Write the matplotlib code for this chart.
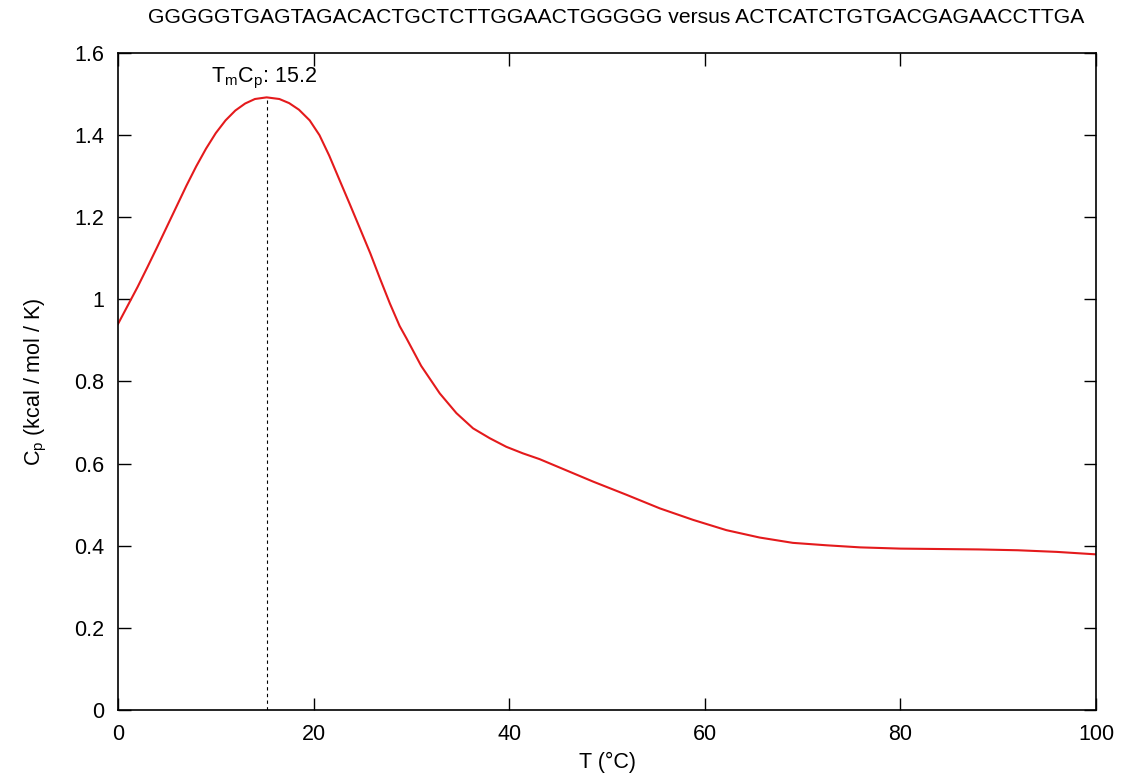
import numpy as np
import matplotlib.pyplot as plt

plt.rcParams['font.family'] = ['Liberation Sans', 'DejaVu Sans']
plt.rcParams['mathtext.fontset'] = 'custom'
plt.rcParams['mathtext.rm'] = 'Liberation Sans'
plt.rcParams['mathtext.it'] = 'Liberation Sans'

title = "GGGGGTGAGTAGACACTGCTCTTGGAACTGGGGG versus ACTCATCTGTGACGAGAACCTTGA"

# temperature (C) and heat capacity (kcal/mol/K)
temp = [0, 1, 2, 3, 4, 5, 6, 7, 8, 9, 10, 11, 12, 13, 14, 15.2, 16.5, 17.5,
        18.5, 19.6, 20.6, 21.6, 22.7, 23.7, 24.7, 25.8, 26.8, 27.8, 28.8,
        29.5, 31, 32.9, 34.6, 36.3, 38, 39.7, 41.4, 43.1, 45, 48.6, 52,
        55.4, 58.8, 62.2, 65.6, 69, 72.5, 75.9, 80, 84, 88, 92, 96, 100]
cp = [0.940, 0.985, 1.030, 1.078, 1.127, 1.177, 1.227, 1.277, 1.324, 1.367,
      1.405, 1.436, 1.460, 1.477, 1.488, 1.492, 1.488, 1.478, 1.462, 1.436,
      1.400, 1.350, 1.288, 1.232, 1.175, 1.112, 1.050, 0.990, 0.935, 0.905,
      0.838, 0.771, 0.723, 0.686, 0.662, 0.641, 0.625, 0.611, 0.592, 0.556,
      0.524, 0.491, 0.463, 0.438, 0.420, 0.407, 0.401, 0.396, 0.393, 0.392,
      0.391, 0.389, 0.385, 0.379]
tm = 15.2
tm_cp = 1.492

fig = plt.figure(figsize=(11.29, 7.82), dpi=100)
ax = fig.add_axes([0.1045, 0.0921, 0.8663, 0.8401])

ax.plot(temp, cp, color='#e41a1c', lw=1.5)
ax.plot([tm, tm], [0, tm_cp], color='black', lw=0.8, ls=(0, (3, 3)))
ax.text(tm - 0.3, tm_cp + 0.015, r"T$_{\rm m}$C$_{\rm p}$: 15.2", ha='center',
        va='bottom', fontsize=15.5)

ax.set_xlim(0, 100)
ax.set_ylim(0, 1.6)
ax.set_xticks([0, 20, 40, 60, 80, 100])
ax.set_yticks([0, 0.2, 0.4, 0.6, 0.8, 1, 1.2, 1.4, 1.6])
ax.set_yticklabels(['0', '0.2', '0.4', '0.6', '0.8', '1', '1.2', '1.4', '1.6'])
ax.tick_params(direction='in', length=9, width=1, labelsize=15.5,
               top=True, right=True, pad=10)
for s in ax.spines.values():
    s.set_linewidth(1.2)

ax.set_xlabel("T (°C)", fontsize=15.5, labelpad=5)
ax.set_ylabel(r"C$_{\rm p}$ (kcal / mol / K)", fontsize=15.5, labelpad=18)
fig.text(0.546, 0.977, title, ha='center', va='center', fontsize=15.2)

fig.savefig('out.png', dpi=100)
